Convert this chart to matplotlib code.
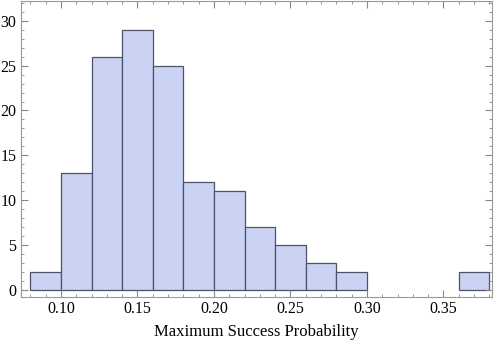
import matplotlib
matplotlib.use("Agg")
import matplotlib.pyplot as plt
from matplotlib.ticker import MultipleLocator, FormatStrFormatter

# histogram bins (left edges, width 0.02) and counts
bin_left = [0.08, 0.10, 0.12, 0.14, 0.16, 0.18, 0.20, 0.22, 0.24, 0.26, 0.28, 0.30, 0.32, 0.34, 0.36]
counts = [2, 13, 26, 29, 25, 12, 11, 7, 5, 3, 2, 0, 0, 0, 2]
bin_width = 0.02
xlabel = "Maximum Success Probability"

plt.rcParams["font.family"] = ["Liberation Serif", "DejaVu Serif"]

fig = plt.figure(figsize=(5, 3.42), dpi=100)
ax = fig.add_axes([0.0414, 0.1325, 0.9420, 0.8645])

# empty bins are not drawn
lefts = [l for l, c in zip(bin_left, counts) if c > 0]
heights = [c for c in counts if c > 0]
ax.bar(lefts, heights, width=bin_width, align="edge",
       color="#cbd3f5", edgecolor="#4d5366", linewidth=0.9)

ax.set_xlim(0.0737, 0.3815)
ax.set_ylim(-0.75, 32.2)

ax.xaxis.set_major_locator(MultipleLocator(0.05))
ax.xaxis.set_minor_locator(MultipleLocator(0.01))
ax.xaxis.set_major_formatter(FormatStrFormatter("%.2f"))
ax.yaxis.set_major_locator(MultipleLocator(5))
ax.yaxis.set_minor_locator(MultipleLocator(1))

for s in ax.spines.values():
    s.set_color("#999999")
    s.set_linewidth(0.8)

ax.tick_params(which="both", direction="in", top=True, right=True,
               color="#888888", labelsize=11.5)
ax.tick_params(which="major", length=5, width=0.8, pad=3)
ax.tick_params(which="minor", length=2.5, width=0.6)

ax.set_xlabel(xlabel, fontsize=12, labelpad=5)

fig.savefig("out.png", dpi=100)
